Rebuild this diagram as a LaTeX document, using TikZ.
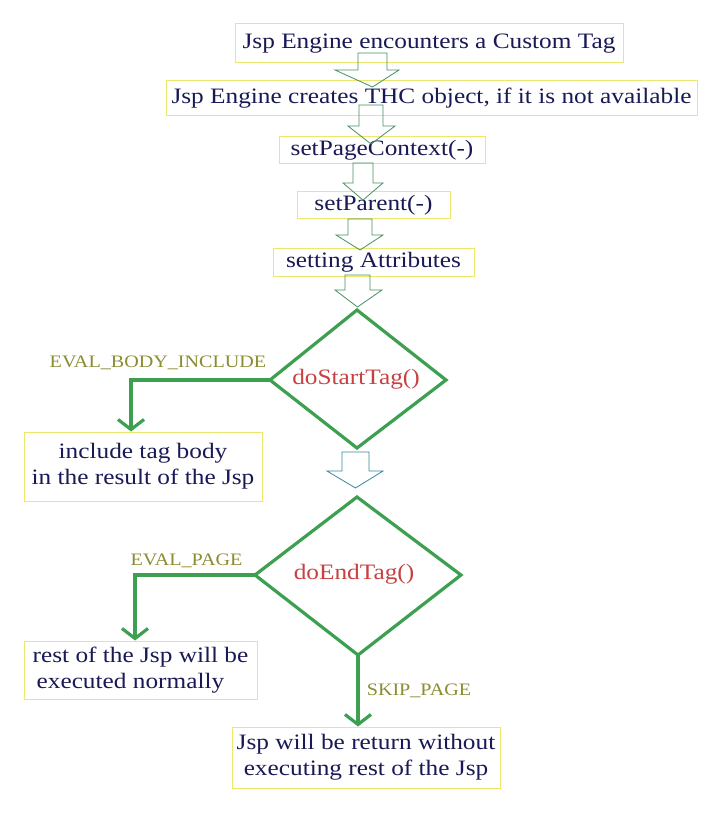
\documentclass[tikz,border=0pt]{standalone}
\usepackage{fontspec}
\setmainfont{Liberation Serif}[FakeStretch=1.15]
\usetikzlibrary{arrows.meta}
\definecolor{navy}{RGB}{25,25,85}
\definecolor{boxline}{RGB}{236,232,110}
\definecolor{flowgreen}{RGB}{60,160,80}
\definecolor{hollowgreen}{RGB}{70,145,95}
\definecolor{hollowteal}{RGB}{55,135,160}
\definecolor{tagred}{RGB}{200,65,65}
\definecolor{olive}{RGB}{140,140,50}
\newcommand{\harrow}[8][hollowgreen]{%
  \draw[hol,draw=#1] (#2,#4) -- (#2,#5) -- (#6,#5) -- ({(#2+#3)/2},#8) -- (#7,#5) -- (#3,#5) -- (#3,#4) -- cycle;}
\begin{document}
\begin{tikzpicture}[x=1pt,y=-1pt,
  box/.style={draw=boxline, line width=1pt, inner sep=0pt, text=navy,
    font=\fontsize{22}{26}\selectfont},
  hol/.style={line width=0.8pt, line join=miter},
  dia/.style={draw=flowgreen, line width=3.2pt, line join=miter},
  conn/.style={draw=flowgreen, line width=3.2pt, -{Straight Barb[length=10pt,width=26pt]}},
  lab/.style={text=olive, inner sep=0pt, font=\fontsize{17.5}{20}\selectfont},
  tagtext/.style={text=tagred, inner sep=0pt, font=\fontsize{22}{26}\selectfont}]
\useasboundingbox (0,0) rectangle (708,826);
\fill[white] (0,0) rectangle (708,826);

% boxes
\node[box, minimum width=388pt, minimum height=39pt] (b1) at (429,43.5) {Jsp Engine encounters a Custom Tag};
\node[box, minimum width=531pt, minimum height=35pt] (b2) at (431.5,98.5) {Jsp Engine creates THC object, if it is not available};
\node[box, minimum width=206pt, minimum height=27pt] (b3) at (382,150.5) {setPageContext(-)};
\node[box, minimum width=153pt, minimum height=27pt] (b4) at (373.5,205.5) {setParent(-)};
\node[box, minimum width=201pt, minimum height=28pt] (b5) at (373.5,262) {setting Attributes};

% hollow arrows
\harrow{358}{387}{53}{70}{335}{399}{87}
\harrow{359}{383}{105}{126}{348}{395}{144}
\harrow{353}{373}{163}{183}{343}{383}{200}
\harrow{348}{372}{219}{235}{336}{383}{250}
\harrow{345}{370}{275}{290}{335}{382}{307}
\harrow[hollowteal]{342}{369}{452}{471}{327}{383}{488}

% diamonds
\draw[dia] (357,310) coordinate (d1n) -- (446,380) coordinate (d1e) -- (357,448) coordinate (d1s) -- (270,380) coordinate (d1w) -- cycle;
\node[tagtext] (t1) at (356,379) {doStartTag()};
\draw[dia] (357,497) coordinate (d2n) -- (461,575) coordinate (d2e) -- (358,655) coordinate (d2s) -- (255,575) coordinate (d2w) -- cycle;
\node[tagtext] (t2) at (354,574) {doEndTag()};

% result boxes
\node[box, minimum width=238pt, minimum height=69pt, align=center] (b7) at (143,466.5) {include tag body\\in the result of the Jsp};
\node[box, minimum width=233pt, minimum height=58pt, align=left] (b10) at (140.5,670) {rest of the Jsp will be\\\hspace{4pt}executed normally};
\node[box, minimum width=268pt, minimum height=61pt, align=center] (b11) at (366,757.5) {Jsp will be return without\\executing rest of the Jsp};

% connectors
\draw[conn] (d1w) -| ([xshift=-12pt]b7.north);
\draw[conn] (d2w) -| ([xshift=-5.5pt]b10.north);
\draw[conn] (d2s) -- (d2s |- b11.north);

% labels
\node[lab] (l1) at (158,363) {EVAL\_BODY\_INCLUDE};
\node[lab] (l2) at (186.5,561) {EVAL\_PAGE};
\node[lab] (l3) at (419,691) {SKIP\_PAGE};
\end{tikzpicture}
\end{document}
